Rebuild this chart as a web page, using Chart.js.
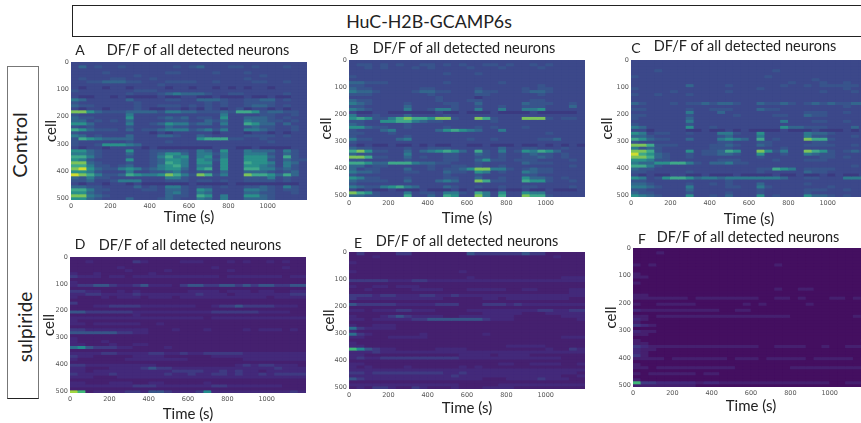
<!DOCTYPE html>
<html><head><meta charset="utf-8">
<script src="https://cdn.jsdelivr.net/npm/chart.js@4"></script>
<style>
html,body{margin:0;padding:0;background:#fff;width:861px;height:423px;overflow:hidden;font-family:Lato,sans-serif;color:#222}
canvas{position:absolute;filter:blur(0.4px)}
.t{position:absolute;white-space:nowrap;transform:translate(-50%,-50%)}
.box{position:absolute;box-sizing:border-box}
</style></head><body>
<div class="box" style="left:72px;top:5px;width:800px;height:32px;border:1.5px solid #222"></div>
<div class="t" style="left:429px;top:21px;font-size:17.8px">HuC-H2B-GCAMP6s</div>
<div class="box" style="left:7px;top:66px;width:32px;height:333px;border:1.5px solid #777;border-bottom-color:#222"></div>
<div class="t" style="left:19px;top:145px;font-size:20px;transform:translate(-50%,-50%) rotate(-90deg)">Control</div>
<div class="t" style="left:24px;top:327px;font-size:19px;transform:translate(-50%,-50%) rotate(-90deg)">sulpiride</div>
<script>
const cellTicks = [0,100,200,300,400,500];
const timeTicks = [0,200,400,600,800,1000];
const timeBinSeconds = 40;
const cellsPerRow = 11;
const panelTitle = "DF/F of all detected neurons";
const viridisLevels = ["#3a1f6e","#3b3a80","#3c488a","#38548c","#33668d","#2d7a8d","#2a908a","#3fa88a","#7cc35a","#d0dc30"];
const dimLevels = ["#440f60","#45206f","#43297a","#3f3a82","#375588","#2c6f8c","#238a8c","#3fb877","#a0d640","#e6e228"];

const panelA = [
"222222222222222222222222222222","242322322222232342223323222322","222222222222222222222222222222","222232222222332222322232222222",
"222222223222222222222222322222","232223322232222222222232222222","223344433222333322322223322322","222222222223222222222222222222",
"212212212222122122121212212222","322222223332222222222222222222","222222232223454443223322222322","211221211112112211211121121122",
"542222242222332244432233442322","322222223222222223232233332222","433222223223332323232234432322","212212223211221213212312212122",
"886433344443554433343776344332","322222252222222222252222332232","433222262223434233262244432322","442323242222333224342254433232",
"664222252234655344252276442422","323222232222433222232234332232","764333242334555345352255432232","322222222212122222122212212122",
"542322242224432243222233332322","376544442222222267773322322222","322222232222322222222222232222","322366654222222222222222222222",
"212212222121111111222112111122","664322262233333254262254442532","554322242234664255352255532432","775322232235756256252266642732",
"653222262234665265362266632433","884322232234765266262276652542","775332342235675255262266542532","896433565345664267262277553432",
"665322252233453233242244432342","987533476556875387352287764742","435332222222553222222233352322","334223555222333233232233332322",
"212212212111111211112111111112","443322224232553233232233432532","775332222332443265222255432332","664322222222453254222244332232",
"885432222222433276252266432222","664322242223432254252244432222"];

const panelB = [
"222222222222222222222222222222","233232322332323223323223232222","223232223232222322232222322222","222222222222222222222222222222",
"222222222222322232222222222222","322222222222222222222222222222","222222222222222222222222222222","443332222222322222232222222222",
"332222222222222222222222322222","433222222332222232222232332222","544322223443322243322234432222","333222222232222233222222322222",
"222222222223222212222222222222","433222222223222332222223322222","543222232222332242222243332232","332222242222232232232233322242",
"543222252235532252252255622222","211221111112112111211112111112","522322242222322222222222222222","676335787768832287322288832332",
"332266775433222222322222222222","432222232222222222222222222222","664332232222322232322232222222","322245222224676542252222222222",
"332223222222222222222222232222","322222232222222222222222222222","533222452222222322322222334222","322222222222222222222222222222",
"212112112121122112111211212121","433222232233322222242233222322","786332242456764273252365764222","433222252222332243232234332322",
"887332242322332233232233432322","332222232222332246332333222232","776447775443322232222243332222","442332222232233232232222222232",
"423322242232334688553234332222","544322233222433265232254332222","322222222222322232222233222222","653322232222332242232264432322",
"433332242224542287332276632232","322222222222222222222222222222","543356754222432232232233222232","212112111211121211121121121112",
"876322252332553275262265522222","443322272242762285272287732222"];

const panelC = [
"222222222222222222222222222222","222222222222222222222222222222","222222222222222222222222222222","222322222222222222322222222222",
"222222222222222222222222222222","322222222222222223222222222222","222222222222222222222223222222","222222222222222222223222322322",
"222222242222322222232232333332","322222222222222232222222222322","222223222222322222222222322232","322322232222222222222222222222",
"222222222222222222222222222222","222222222222222222222222222222","432223233434432243343234343344","222222222222222222222222222322",
"332222232233322243322222222222","222222252224222222222233322322","332222232222232222332243322222","322222242222222222222222222222",
"222222252222222222252223322322","322222232222222222222222222222","542222262232222222264433322242","221222211211212111121112111212",
"652332232225532262222254432222","443222222223422252222253322232","764332242225654272322287732222","322222222223322233222223322222",
"887333222233432243222233332232","534322222233322222232222222222","887322262334762286352287632343","976432232334432262232254332222",
"887432232222222232222222332322","665332222223332222322233322222","544667753244533222222222222222","775322222222222222222222222232",
"433222222222222233765233332222","332222232222222232222243322222","212112211211121111211211212112","652367764554555555542233222555",
"332222222222322222222222222222","443222232232322242222232222222","554322252222332253222222232222","332222242222222232222233322322",
"433222232222322232222232222222","654322262232422262322264432322"];

const panelD = [
"111111111111111111111111111111","112111113211112221112121121211","111111111111111111111111111111","111111211111111111211111111211",
"111111121111211111112111111111","211211111121111111111111111111","322212212222222222212222222122","111111111111111111111111111111",
"211111111111111111111111111111","233443223422213443344343443344","111111111111111111111111111111","332211212111111222212221221122",
"223322223222222232221222222233","211121222122212222222222212222","111111111111111111111111111111","311111111111111111111111111111",
"111223333222222211233433332221","111111111111111111111111111111","443333332222222222333333222211","111111112111111111111111111111",
"222222222222222221222222222222","211111111111111111111111111111","221222222112111111111111111111","111111111111111111111111111111",
"332222222211121112111121222121","444444332211111111111111111111","111111111111111111111111111111","211111111111111111111111111111",
"211121111111111111111111111111","221112112211111111111111111111","564333221111211111111111111111","111111111111111111111111111111",
"222233222233223223333322222222","322111112222111111222222222222","211111122222222111111122222222","111111111111111111111111111111",
"332222222221111111111232332221","221112222343322222222222223222","221222222222233332232322122222","322223222222322322332322323333",
"222111222222222222222222222222","111111111111111111111111111111","221112221122111112111111111111","222222223332222222332222222111",
"111111111111111111111111111111","871222233244322236222222222232"];

const panelE = [
"131111331111111433333343311111","111211111111111111111111112111","111111111111111111111111111111","211111111111111111111111111111",
"111111111111111111111111111111","111111111111111111111111111111","211111111111112111111111111111","111111111111111111111111111111",
"111111111111111211111111111222","333332223322222222222222222222","111111111111111111111111111111","211221222111111111111111111111",
"112111112222111222221122111122","111111111111111111111111111122","333233222332232222222222222222","322222222222111112212222222211",
"111111111111111111111111111111","433333222223331113332322222222","111111111111111111111111111111","221222332221111222222222332233",
"111111111111111112222211122222","211123432222112222222111111222","221222223344444443222111111112","111111111111111111111111111111",
"211222111111111111111111111111","532222111111111111111111111111","211111111111111111111111111111","532111111211111112111111111111",
"221112222211111111111111111222","111111111111111111111111111111","211111111111111111111111111111","221111111111111111112222211111",
"764322111112222111111111121132","222322222222222222222222222222","221111111111112222122221111111","232233333333332222222222222111",
"111111111111111111111111111111","221111111111111111122112222112","212111121111112121111111111111","222222222222222222222222222222",
"332333333333223222222222222221","222222222222232222222222222112","432222222222222221112222322211","111111111111111111111111111111",
"222222222222221111122222222222","121332113211121112222111111111"];

const panelF = [
"000000000000000000000000000000","000100000000000000000000000000","000000000000000000000000000000","000000000000000000000000000000",
"000000000000000000000000000000","101000000000000000100000000000","000000000000000000000000000000","000000000000000000000000000000",
"100000000000000000000000000000","110000000000000000000000000000","000000000000000000000000000000","100000000000000000000000000000",
"000000000000000000000000000000","000000000000000000100110000000","000000000000000000000000000000","110000000000000000000000000000",
"111111101111111100110100011010","000000000000000000000000000000","100111110000001010000010000000","000000000000000000000000000000",
"211111111110011000000000000000","000000000000000000000000000000","110111111111111111110000000010","210000000000000000000000000000",
"100000000000000000000000000000","321000000000000000000000000000","000000000000000000000000000000","211000000000000000000000000000",
"110000000000000000000000000000","000000000000000000000000000000","100000000000000000000000000001","110000000000000000000000000000",
"321111111111111100111100100111","211000000000000000000000000000","210000000000000000000000000000","310000000000000000000000000000",
"111101111111011101111101111101","000000000000000000000000000000","100000000000000000000000000000","110111111111100000001111111111",
"000000000000000000000000000000","101111110110000000000000000000","000000000000000000000000000000","100000000000000000000000000000",
"733222221221111111111111100111","111111110000000000000000000000"];

const layouts = [
 {name:"A",rows:panelA,pal:viridisLevels,base:2,l:71, r:307,t:62, b:200,cx:52, tX:198,tY:49, xY:217,lx:80, ly:49},
 {name:"B",rows:panelB,pal:viridisLevels,base:2,l:349,r:585,t:60, b:197,cx:327,tX:464,tY:47, xY:218,lx:354,ly:48},
 {name:"C",rows:panelC,pal:viridisLevels,base:2,l:631,r:867,t:60, b:197,cx:608,tX:745,tY:45, xY:219,lx:636,ly:47},
 {name:"D",rows:panelD,pal:dimLevels,base:1,l:70, r:306,t:257,b:393,cx:50, tX:190,tY:244,xY:414,lx:80, ly:243},
 {name:"E",rows:panelE,pal:dimLevels,base:1,l:349,r:585,t:252,b:389,cx:330,tX:467,tY:240,xY:408,lx:358,ly:242},
 {name:"F",rows:panelF,pal:dimLevels,base:0,l:633,r:869,t:248,b:387,cx:612,tX:748,tY:236,xY:406,lx:642,ly:238}
];

const baseFill = {
  id:"baseFill",
  beforeDatasetsDraw(chart,args,opts){
    const a = chart.chartArea, c = chart.ctx;
    c.save(); c.fillStyle = opts.color; c.fillRect(a.left,a.top,a.width,a.height); c.restore();
  },
  afterDatasetsDraw(chart){
    const a = chart.chartArea, c = chart.ctx;
    c.save();
    c.beginPath(); c.rect(a.left,a.top,a.width,a.height); c.clip();
    c.filter = "blur(0.6px)";
    c.drawImage(chart.canvas,0,0);
    c.restore();
  }
};

function addText(x,y,size,text){
  const d=document.createElement("div");
  d.className="t"; d.textContent=text; d.style.cssText=`left:${x}px;top:${y}px;font-size:${size}px`;
  document.body.appendChild(d);
}

layouts.forEach(p=>{
  const axisLH=19.2, topPad=10;
  const left=Math.round(p.cx-axisLH/2), top=p.t-topPad, bottom=Math.round(p.xY+axisLH/2);
  const cv=document.createElement("canvas");
  cv.width=p.r-left; cv.height=bottom-top;
  cv.style.left=left+"px"; cv.style.top=top+"px";
  document.body.appendChild(cv);
  addText(p.lx,p.ly,14,p.name);
  addText(p.tX,p.tY,14.5,panelTitle);

  const datasets=p.rows.map(row=>{
    const levels=row.split("").map(Number);
    return {
      data:levels.map((_,i)=>({x:(i+0.5)*timeBinSeconds,y:cellsPerRow})),
      backgroundColor:levels.map(v=>p.pal[v]),
      borderWidth:0,barPercentage:1,categoryPercentage:1
    };
  });
  const axisFont={family:"'DejaVu Sans'",size:6.5};
  new Chart(cv,{
    type:"bar",
    data:{datasets},
    plugins:[baseFill],
    options:{
      responsive:false,animation:false,events:[],
      layout:{padding:{top:topPad}},
      plugins:{
        legend:{display:false},tooltip:{enabled:false},
        baseFill:{color:p.pal[p.base]}
      },
      scales:{
        x:{type:"linear",stacked:true,offset:false,min:0,max:1200,
          grid:{display:false,drawTicks:false},border:{display:false},
          ticks:{font:axisFont,color:"#555",padding:2,maxRotation:0,autoSkip:false,callback:v=>String(v)},
          afterBuildTicks:s=>{s.ticks=timeTicks.map(value=>({value}));},
          afterFit:s=>{s.height=bottom-p.b;},
          title:{display:true,text:"Time (s)",color:"#222",padding:0,font:{family:"Lato",size:15,lineHeight:1.28}}},
        y:{type:"linear",stacked:true,reverse:true,min:0,max:p.rows.length*cellsPerRow,
          grid:{display:false,drawTicks:false},border:{display:false},
          ticks:{font:axisFont,color:"#555",padding:2,autoSkip:false},
          afterBuildTicks:s=>{s.ticks=cellTicks.map(value=>({value}));},
          afterFit:s=>{s.width=p.l-left;},
          title:{display:true,text:"cell",color:"#222",padding:0,font:{family:"Lato",size:15,lineHeight:1.28}}}
      }
    }
  });
});
</script>
</body></html>
